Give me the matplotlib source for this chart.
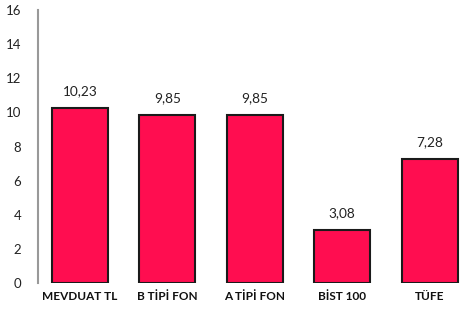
import matplotlib
matplotlib.use("Agg")
import matplotlib.pyplot as plt

categories = ["MEVDUAT TL", "B TİPİ FON", "A TİPİ FON", "BİST 100", "TÜFE"]
values = [10.23, 9.85, 9.85, 3.08, 7.28]
value_labels = ["10,23", "9,85", "9,85", "3,08", "7,28"]
yticks = [0, 2, 4, 6, 8, 10, 12, 14, 16]

plt.rcParams['font.family'] = ['Lato', 'DejaVu Sans']

fig = plt.figure(figsize=(4.69, 3.13), dpi=100)
ax = fig.add_axes([38/469, 1-283/313, 1-38/469, (283-10)/313])

x = range(len(categories))
bars = ax.bar(x, values, width=0.64, color="#FF0D50", edgecolor="#1a1a1a", linewidth=1.5)
for i, (v, lab) in enumerate(zip(values, value_labels)):
    ax.text(i, v + 0.65, lab, ha="center", va="bottom", fontsize=9.8, color="#222222")

ax.set_ylim(0, 16)
ax.set_xlim(-0.48, 4.45)
ax.set_yticks(yticks)
ax.set_yticklabels([str(t) for t in yticks], fontsize=9.5, color="#222222")
ax.set_xticks(list(x))
ax.set_xticklabels(categories, fontsize=8.5, fontweight="bold", color="#111111")
ax.tick_params(axis="y", length=0, pad=12)
ax.tick_params(axis="x", length=0, pad=6)
for s in ["top", "right", "bottom"]:
    ax.spines[s].set_visible(False)
ax.spines["left"].set_color("#999999")
ax.spines["left"].set_linewidth(1.5)

fig.savefig("out.png", dpi=100)
